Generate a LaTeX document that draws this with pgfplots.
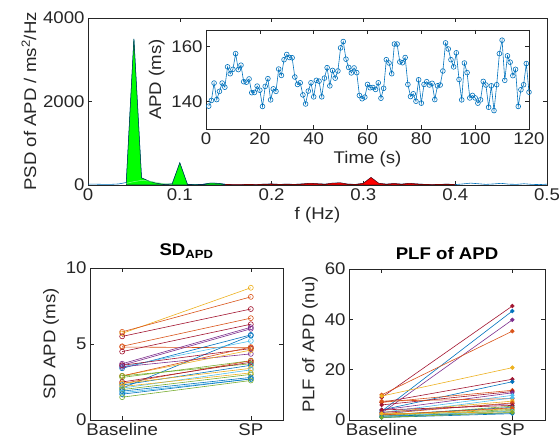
\documentclass[border=0pt]{standalone}
\usepackage{pgfplots}
\pgfplotsset{compat=1.18}
\usepackage{fontspec}
\setmainfont{Liberation Sans}[FakeStretch=1.1]
\definecolor{mgray}{rgb}{0.15,0.15,0.15}
\definecolor{c1}{rgb}{0,0.447,0.741}
\definecolor{c2}{rgb}{0.85,0.325,0.098}
\definecolor{c3}{rgb}{0.929,0.694,0.125}
\definecolor{c4}{rgb}{0.494,0.184,0.556}
\definecolor{c5}{rgb}{0.466,0.674,0.188}
\definecolor{c6}{rgb}{0.301,0.745,0.933}
\definecolor{c7}{rgb}{0.635,0.078,0.184}
\newcommand\fs{\fontsize{17}{19}\selectfont}
\pgfplotsset{mat/.style={scale only axis, anchor=south west,
  axis line style={mgray, line width=0.5pt}, tick style={mgray, line width=0.5pt},
  tick align=inside, major tick length=4bp,
  every tick label/.append style={font=\fs, text=mgray},
  label style={font=\fs, text=mgray},
  /pgf/number format/assume math mode=true, /pgf/number format/1000 sep={},
  scaled ticks=false, clip=true}}
% paired lines: colour, baseline, SP
\newcommand\sdp[3]{\addplot[#1, line width=0.6pt, mark=o, mark size=2.5pt] coordinates {(1,#2)(2,#3)};}
\newcommand\plp[3]{\addplot[#1, line width=0.6pt, mark=*, mark size=1.9pt] coordinates {(1,#2)(2,#3)};}
\begin{document}
\begin{tikzpicture}
\useasboundingbox (0,0) rectangle (559bp,448bp);
% PSD
\begin{axis}[mat, at={(88bp,263bp)}, width=459bp, height=167bp,
  xmin=0, xmax=0.5, ymin=0, ymax=4000,
  xtick={0,0.1,0.2,0.3,0.4,0.5}, xticklabels={0,0.1,0.2,0.3,0.4,0.5},
  ytick={0,2000,4000},
  xlabel={f (Hz)}, ylabel={PSD of APD / ms\textsuperscript{2}/Hz}]
\addplot[c1, line width=0.6pt] coordinates {
(0,20)(0.0083,20)(0.0167,15)(0.025,15)(0.0333,25)(0.0417,60)(0.05,3500)(0.0583,170)
(0.0667,90)(0.075,40)(0.0833,20)(0.0917,25)(0.1,530)(0.1083,15)(0.1167,10)(0.125,15)
(0.1333,45)(0.1417,40)(0.15,15)(0.1583,10)(0.1667,10)(0.175,15)(0.1833,10)(0.1917,20)
(0.2,25)(0.2083,15)(0.2167,20)(0.225,15)(0.2333,25)(0.2417,40)(0.25,30)(0.2583,20)
(0.2667,45)(0.275,50)(0.2833,20)(0.2917,15)(0.3,40)(0.3083,180)(0.3167,40)(0.325,20)
(0.3333,35)(0.3417,20)(0.35,40)(0.3583,25)(0.3667,15)(0.375,10)(0.3833,15)(0.3917,20)
(0.4,10)(0.4083,25)(0.4167,45)(0.425,30)(0.4333,15)(0.4417,25)(0.45,40)(0.4583,20)
(0.4667,15)(0.475,30)(0.4833,15)(0.4917,10)(0.5,20)};
\addplot[fill=green, draw=black!60!c1, line width=0.5pt] coordinates {
(0.0417,0)(0.0417,60)(0.05,3500)(0.0583,170)(0.0667,90)(0.075,40)(0.0833,20)(0.0917,25)
(0.1,530)(0.1083,15)(0.1167,10)(0.125,15)(0.1333,45)(0.1417,40)(0.15,15)(0.15,0)} -- cycle;
\addplot[fill=red, draw=red!45!black, line width=0.5pt] coordinates {
(0.15,0)(0.15,15)(0.1583,10)(0.1667,10)(0.175,15)(0.1833,10)(0.1917,20)
(0.2,25)(0.2083,15)(0.2167,20)(0.225,15)(0.2333,25)(0.2417,40)(0.25,30)(0.2583,20)
(0.2667,45)(0.275,50)(0.2833,20)(0.2917,15)(0.3,40)(0.3083,180)(0.3167,40)(0.325,20)
(0.3333,35)(0.3417,20)(0.35,40)(0.3583,25)(0.3667,15)(0.375,10)(0.3833,15)(0.3917,20)
(0.4,10)(0.4,0)} -- cycle;
\addplot[white!55!green, line width=0.5pt] coordinates {
(0.0417,40)(0.05,80)(0.0583,110)(0.0667,95)(0.075,60)(0.0833,30)(0.0917,20)};
\end{axis}
% inset
\begin{axis}[mat, at={(206bp,319bp)}, width=323bp, height=99bp,
  axis background/.style={fill=white},
  xmin=0, xmax=120, ymin=130, ymax=166,
  xtick={0,20,40,60,80,100,120}, ytick={140,160},
  xlabel={Time (s)}, ylabel={APD (ms)}]
\addplot[c1, line width=0.6pt, mark=o, mark size=2.4pt] coordinates {
(1,138.3)(2,140.4)(3,146.7)(4,140.7)(5,143.7)(6,146.7)(7,145.2)(8,152.6)(9,150.1)(10,151.7)
(11,157.4)(12,151.6)(13,153.2)(14,147.2)(15,147.0)(16,148.2)(17,143.2)(18,143.3)(19,145.6)(20,144.1)
(21,138.2)(22,145.5)(23,148.3)(24,140.6)(25,144.6)(26,143.7)(27,151.8)(28,149.5)(29,155.2)(30,157.1)
(31,156.0)(32,155.9)(33,148.9)(34,146.2)(35,146.8)(36,142.4)(37,139.1)(38,143.8)(39,146.8)(40,141.7)
(41,147.7)(42,147.4)(43,141.7)(44,148.5)(45,152.3)(46,145.7)(47,151.3)(48,148.5)(49,151.1)(50,159.5)
(51,161.8)(52,155.4)(53,152.4)(54,150.4)(55,152.2)(56,150.5)(57,142.2)(58,141.0)(59,141.6)(60,146.2)
(61,145.0)(62,145.1)(63,144.4)(64,146.8)(65,141.2)(66,144.8)(67,155.2)(68,154.0)(69,150.1)(70,160.9)
(71,160.9)(72,154.4)(73,154.1)(74,156.0)(75,146.2)(76,141.8)(77,142.8)(78,140.1)(79,147.9)(80,139.4)
(81,146.2)(82,147.2)(83,146.0)(84,146.6)(85,140.7)(86,145.7)(87,146.0)(88,151.1)(89,161.3)(90,159.1)
(91,155.2)(92,152.6)(93,157.7)(94,148.0)(95,140.6)(96,154.0)(97,150.5)(98,141.3)(99,142.2)(100,141.3)
(101,139.4)(102,140.6)(103,147.3)(104,146.0)(105,137.9)(106,145.7)(107,136.7)(108,146.1)(109,157.4)(110,162.3)
(111,147.7)(112,156.6)(113,154.3)(114,149.4)(115,151.7)(116,138.2)(117,144.3)(118,146.1)(119,153.8)(120,143.4)};
\end{axis}
% SD APD
\begin{axis}[mat, at={(90bp,28bp)}, width=193bp, height=152bp,
  xmin=0.75, xmax=2.25, xtick={1,2}, xticklabels={Baseline,SP},
  ymin=0, ymax=10, ytick={0,5,10}, ylabel={SD APD (ms)},
  title={\textbf{SD\textsubscript{APD}}}, title style={font=\fs}]
\sdp{c3}{5.7}{8.7}
\sdp{c2}{5.8}{8.1}
\sdp{c7}{5.5}{7.3}
\sdp{c2}{4.85}{6.7}
\sdp{c2}{4.8}{4.75}
\sdp{c7}{4.5}{6.3}
\sdp{c4}{3.7}{6.1}
\sdp{c4}{3.6}{6.0}
\sdp{c1}{3.4}{5.6}
\sdp{c1}{2.1}{5.55}
\sdp{c6}{3.5}{5.2}
\sdp{c7}{3.6}{4.7}
\sdp{c4}{3.5}{4.35}
\sdp{c3}{2.9}{4.6}
\sdp{c2}{2.9}{4.8}
\sdp{c5}{2.8}{3.9}
\sdp{c5}{2.9}{3.7}
\sdp{c2}{2.4}{3.9}
\sdp{c7}{2.5}{3.8}
\sdp{c1}{2.3}{3.6}
\sdp{c3}{2.4}{3.4}
\sdp{c6}{2.1}{3.3}
\sdp{c3}{2.2}{3.1}
\sdp{c5}{2.0}{3.0}
\sdp{c1}{1.9}{2.8}
\sdp{c6}{1.8}{2.7}
\sdp{c1}{1.7}{2.7}
\sdp{c5}{1.5}{2.6}
\end{axis}
% PLF
\begin{axis}[mat, at={(349bp,28bp)}, width=196bp, height=151bp,
  xmin=0.75, xmax=2.25, xtick={1,2}, xticklabels={Baseline,SP},
  ymin=0, ymax=60, ytick={0,20,40,60}, ylabel={PLF of APD (nu)},
  title={\textbf{PLF of APD}}, title style={font=\fs}]
\plp{c7}{9.0}{45.3}
\plp{c1}{3.5}{43.3}
\plp{c4}{2.8}{39.8}
\plp{c2}{10.0}{35.3}
\plp{c3}{9.5}{20.8}
\plp{c7}{7.0}{16.2}
\plp{c1}{4.0}{15.2}
\plp{c2}{7.0}{11.8}
\plp{c7}{6.0}{11.3}
\plp{c4}{4.0}{10.8}
\plp{c6}{3.0}{9.8}
\plp{c2}{7.5}{8.5}
\plp{c6}{2.0}{8.8}
\plp{c3}{3.0}{7.5}
\plp{c4}{3.0}{6.5}
\plp{c2}{2.5}{6.8}
\plp{c5}{1.5}{5.5}
\plp{c7}{4.0}{5.8}
\plp{c1}{2.0}{5.0}
\plp{c3}{2.0}{4.5}
\plp{c5}{1.5}{4.2}
\plp{c5}{1.0}{3.8}
\plp{c2}{2.0}{4.8}
\plp{c6}{1.5}{3.5}
\plp{c1}{1.0}{2.5}
\plp{c1}{1.5}{2.8}
\plp{c3}{2.5}{3.2}
\plp{c5}{1.0}{3.0}
\end{axis}
\end{tikzpicture}
\end{document}
